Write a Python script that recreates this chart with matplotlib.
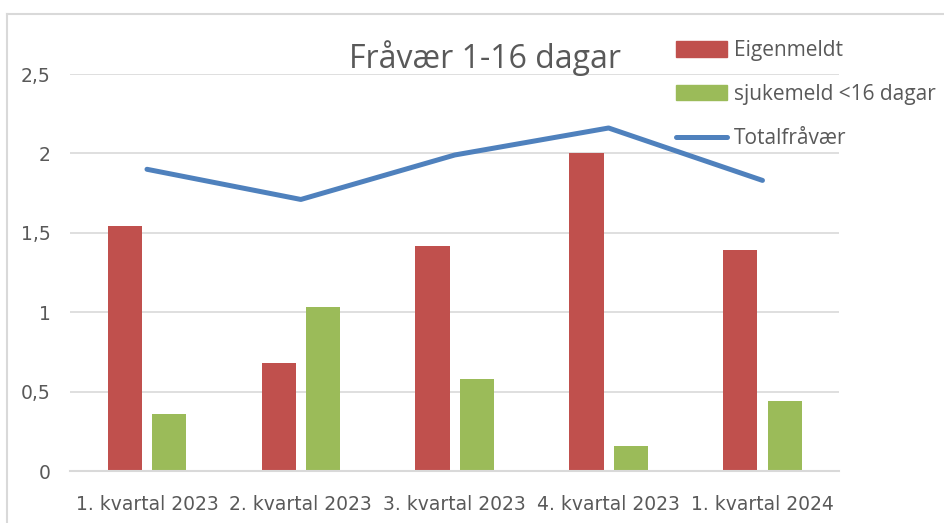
import numpy as np
import matplotlib

matplotlib.use("Agg")
import matplotlib.pyplot as plt
from matplotlib.lines import Line2D

categories = ["1. kvartal 2023", "2. kvartal 2023", "3. kvartal 2023",
              "4. kvartal 2023", "1. kvartal 2024"]
eigenmeldt = [1.54, 0.68, 1.42, 2.00, 1.39]
sjukemeld = [0.36, 1.03, 0.58, 0.16, 0.44]
totalfravaer = [1.90, 1.71, 1.99, 2.16, 1.83]
yticks = [0, 0.5, 1, 1.5, 2, 2.5]
ytick_labels = ["0", "0,5", "1", "1,5", "2", "2,5"]

RED = "#c0504d"
GREEN = "#9bbb59"
BLUE = "#4f81bd"
GRID = "#d9d9d9"
TXT = "#595959"
TICKFONT = ["Liberation Sans Narrow", "DejaVu Sans"]
TEXTFONT = ["Open Sans", "DejaVu Sans"]

fig = plt.figure(figsize=(9.44, 5.23), dpi=100)
ax = fig.add_axes([0.0742, 0.0994, 0.8150, 0.7591])

x = np.arange(len(categories))
w = 0.222
off = 0.144
ax.bar(x - off, eigenmeldt, w, color=RED, label="Eigenmeldt", zorder=2)
ax.bar(x + off, sjukemeld, w, color=GREEN, label="sjukemeld <16 dagar", zorder=2)
ax.plot(x, totalfravaer, color=BLUE, lw=3.6, solid_capstyle="round",
        solid_joinstyle="round", label="Totalfråvær", zorder=3)

ax.set_xlim(-0.5, len(categories) - 0.5)
ax.set_ylim(0, 2.5)
ax.set_yticks(yticks)
ax.set_yticklabels(ytick_labels, family=TICKFONT, fontsize=13.5, color=TXT)
ax.set_xticks(x)
ax.set_xticklabels(categories, family=TICKFONT, fontsize=13.5, color=TXT)
ax.tick_params(axis="x", length=0, pad=17)
ax.tick_params(axis="y", length=0, pad=14)
ax.grid(axis="y", color=GRID, lw=1.2, zorder=0)
for s in ["top", "right", "left"]:
    ax.spines[s].set_visible(False)
ax.spines["bottom"].set_color(GRID)
ax.spines["bottom"].set_linewidth(1.5)

fig.text(0.514, 0.888, "Fråvær 1-16 dagar", ha="center", va="center",
         family=TEXTFONT, fontsize=23, color=TXT)

handles = [
    plt.Rectangle((0, 0), 1, 1, color=RED),
    plt.Rectangle((0, 0), 1, 1, color=GREEN),
    Line2D([], [], color=BLUE, lw=3.6, solid_capstyle="round"),
]
labels = ["Eigenmeldt", "sjukemeld <16 dagar", "Totalfråvær"]
leg = fig.legend(handles, labels, loc="upper left", bbox_to_anchor=(0.696, 0.959),
                 frameon=False, prop={"family": TEXTFONT, "size": 15},
                 handlelength=2.45, handleheight=0.75, handletextpad=0.33,
                 labelspacing=1.1, labelcolor=TXT)

# outer chart border (only left and top visible in the crop)
fig.add_artist(Line2D([7 / 944, 7 / 944], [0, 1 - 14 / 523], color=GRID, lw=1.5))
fig.add_artist(Line2D([7 / 944, 1], [1 - 14 / 523, 1 - 14 / 523], color=GRID, lw=1.5))

fig.savefig("out.png", dpi=100)
